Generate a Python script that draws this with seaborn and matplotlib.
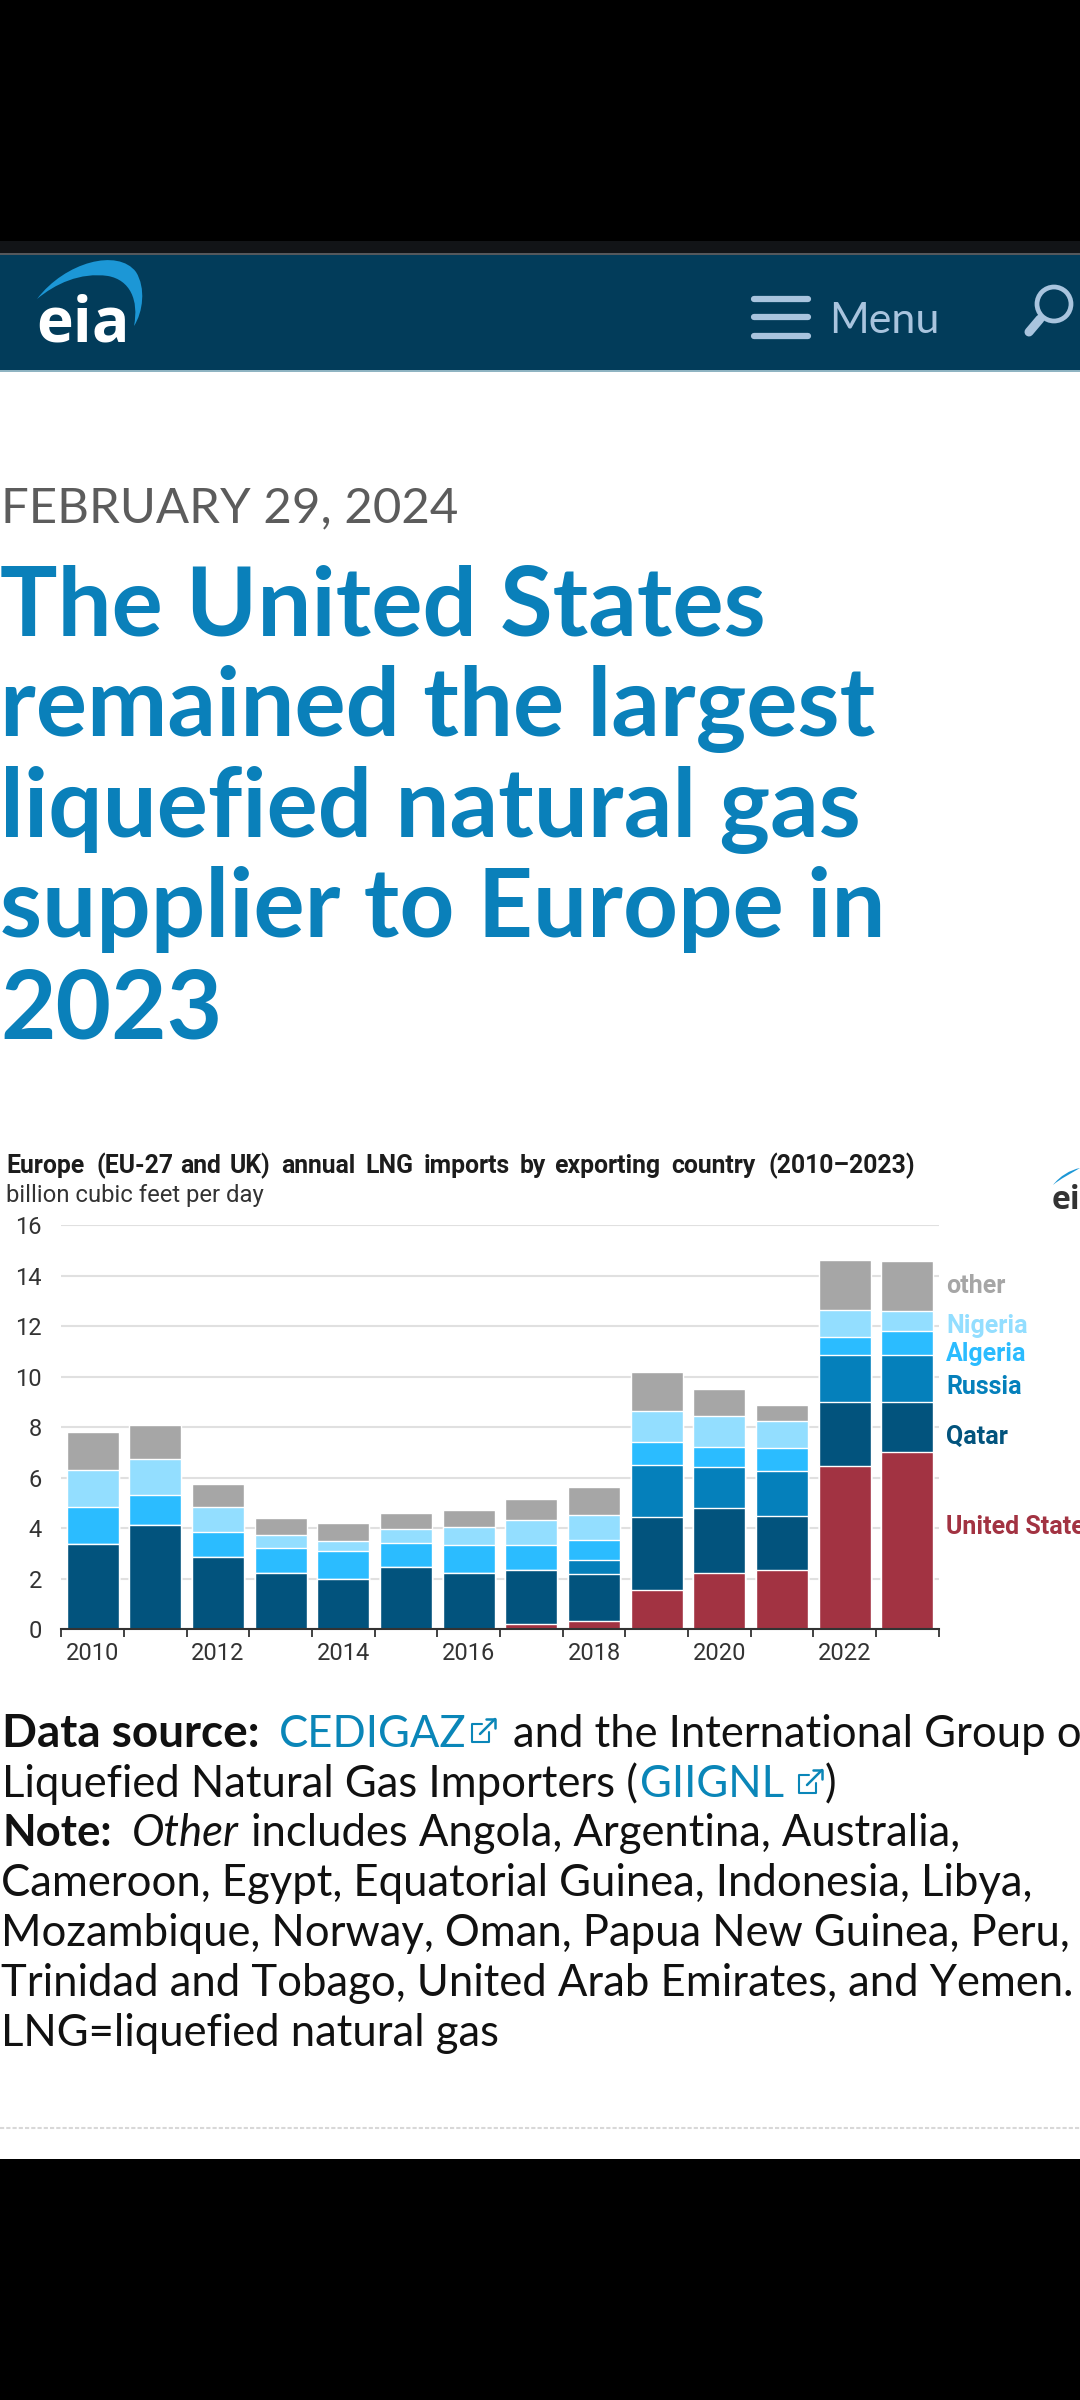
import numpy as np
import matplotlib
matplotlib.use("Agg")
import matplotlib.pyplot as plt
from matplotlib.patches import Rectangle, Circle, PathPatch
from matplotlib.path import Path
import seaborn as sns

years = ["2010", "2011", "2012", "2013", "2014", "2015", "2016", "2017", "2018", "2019", "2020", "2021", "2022", "2023"]
even_years = years[::2]
us = [0, 0, 0, 0, 0, 0, 0, 0.2, 0.31, 1.56, 2.21, 2.35, 6.48, 7.04]
qatar = [3.37, 4.12, 2.86, 2.22, 1.99, 2.48, 2.22, 2.15, 1.89, 2.89, 2.59, 2.12, 2.52, 1.98]
russia = [0, 0, 0, 0, 0, 0, 0, 0, 0.54, 2.04, 1.64, 1.81, 1.86, 1.85]
algeria = [1.49, 1.21, 0.99, 1.0, 1.13, 0.93, 1.1, 0.98, 0.81, 0.92, 0.78, 0.91, 0.72, 0.93]
nigeria = [1.44, 1.42, 0.98, 0.52, 0.37, 0.56, 0.73, 0.98, 0.97, 1.24, 1.21, 1.06, 1.07, 0.79]
other = [1.52, 1.33, 0.94, 0.67, 0.73, 0.63, 0.68, 0.85, 1.1, 1.55, 1.08, 0.63, 1.97, 1.98]

series_names = ["United States", "Qatar", "Russia", "Algeria", "Nigeria", "other"]
series_values = [us, qatar, russia, algeria, nigeria, other]
series_colors = ["#a23342", "#02537d", "#0580bb", "#2bbcff", "#93deff", "#a6a6a6"]
label_rows = [1527, 1437, 1387, 1354, 1326, 1286]

title_words = ["Europe", "(EU-27", "and", "UK)", "annual", "LNG", "imports", "by", "exporting", "country", "(2010\u20132023)"]
title_word_x = [6, 96, 180, 230, 281, 365, 424, 520, 554.5, 671.5, 768]

sns.set_theme(style="white")
plt.rcParams['font.family'] = ['Lato', 'DejaVu Sans']

fig = plt.figure(figsize=(10.8, 24), dpi=100, facecolor="white")

# whole page in pixel coordinates
page = fig.add_axes([0, 0, 1, 1])
page.set_xlim(0, 1080)
page.set_ylim(2400, 0)
page.axis("off")


def block(y0, y1, color):
    page.add_patch(Rectangle((0, y0), 1080, y1 - y0, color=color, lw=0))


def crescent(pts, color):
    codes = [Path.MOVETO] + [Path.CURVE4] * (len(pts) - 1)
    page.add_patch(PathPatch(Path(pts, codes), fc=color, lw=0))


block(0, 241, "black")
block(241, 253, "#121417")
block(253, 255, "#55585c")
block(255, 370, "#023c5a")
block(370, 372, "#8fb4c2")
block(2159, 2400, "black")

# site header
crescent([(37, 299), (65, 262), (118, 248), (136, 272), (146, 288), (143, 312), (134, 326),
          (139, 300), (130, 280), (108, 276), (80, 272), (55, 284), (37, 299)], "#1c97d6")
page.text(36, 342, "eia", color="white", fontsize=45, fontweight="bold", family="Open Sans", va="baseline")
for y in [299, 317, 336]:
    page.plot([754, 808], [y, y], color="#a9c4de", lw=4.5, solid_capstyle="round")
page.text(829, 333, "Menu", color="#a9c4de", fontsize=31, va="baseline")
page.add_patch(Circle((1054, 304), 17, fc="none", ec="#a9c4de", lw=3.4))
page.plot([1040, 1029], [319, 332], color="#a9c4de", lw=6.5, solid_capstyle="round")

# article heading
page.text(1, 522, "FEBRUARY 29, 2024", color="#5c5c5c", fontsize=35.4, va="baseline")
title_lines = ["The United States", "remained the largest", "liquefied natural gas", "supplier to Europe in", "2023"]
for i, line in enumerate(title_lines):
    page.text(0, 635 + i * 100.8, line, color="#0a80ba", fontsize=69, fontweight="bold", va="baseline")

# chart heading, tiny logo
for word, x in zip(title_words, title_word_x):
    page.text(x, 1173, word, color="#1c1c1c", fontsize=17.8, fontweight="bold", family="Roboto", va="baseline")
page.text(6, 1202, "billion cubic feet per day", color="#333333", fontsize=17.2, family="Roboto", va="baseline")
crescent([(1053, 1185), (1060, 1176), (1070, 1170), (1080, 1168), (1070, 1174), (1060, 1179), (1053, 1185)],
         "#1c97d6")
page.text(1052, 1209, "ei", color="#333333", fontsize=23, fontweight="bold", family="Open Sans", va="baseline")

# chart
ax = fig.add_axes([61.3 / 1080, 1 - 1629.3 / 2400, 877.5 / 1080, 404 / 2400])
ax.patch.set_alpha(0)
tops = np.cumsum(series_values, axis=0)
for name, top, color in reversed(list(zip(series_names, tops, series_colors))):
    sns.barplot(x=years, y=top, color=color, saturation=1, width=0.83, ax=ax, zorder=3)

ax.set_xlim(-0.5, 13.5)
ax.set_ylim(0, 16)
ax.set_yticks(range(0, 17, 2))
ax.grid(axis="y", color="#e0e0e0", lw=1.5)
ax.grid(axis="x", visible=False)
ax.set_axisbelow(True)
sns.despine(ax=ax, left=True)
ax.spines["bottom"].set_color("#333333")
ax.spines["bottom"].set_linewidth(1.5)
ax.spines["bottom"].set_zorder(5)
ax.set_xticks(np.arange(15) - 0.5, [""] * 15)
ax.set_xticks(range(0, 14, 2), even_years, minor=True)
ax.tick_params(axis="x", which="major", length=5.5, width=1.3, color="#333333", bottom=True)
ax.tick_params(axis="x", which="minor", length=0, pad=9, labelsize=17, labelcolor="#333333")
ax.tick_params(axis="y", length=0, pad=14, labelsize=17, labelcolor="#333333")
for lab in ax.get_xticklabels(minor=True) + ax.get_yticklabels():
    lab.set_family("Roboto")
ax.set_xlabel("")
ax.set_ylabel("")

for name, row, color in zip(series_names, label_rows, series_colors):
    page.text(946, row, name, color=color, fontsize=18, fontweight="bold", family="Roboto", va="center")

# notes below the chart
ink = "#111111"
link = "#0a86b8"
note_size = 31.4
note_rows = [1747, 1797, 1846, 1896, 1946, 1996, 2046]


def note(x, row, text, color=ink, size=note_size, **kw):
    page.text(x, note_rows[row], text, color=color, fontsize=size, va="baseline", **kw)


def link_icon(x, y):
    page.plot([x + 10, x, x, x + 17, x + 17], [y + 6, y + 6, y + 24, y + 24, y + 14], color=link, lw=1.5)
    page.plot([x + 8, x + 23], [y + 16, y + 1], color=link, lw=1.8)
    page.plot([x + 14, x + 23, x + 23], [y + 1, y + 1, y + 10], color=link, lw=1.8)


note(2, 0, "Data source:", size=33, fontweight="bold")
note(279, 0, "CEDIGAZ", color=link)
link_icon(472, 1718)
note(513, 0, "and the International Group of")
note(2, 1, "Liquefied Natural Gas Importers (")
note(640, 1, "GIIGNL", color=link)
link_icon(799, 1769)
note(825, 1, ")")
note(2, 2, "Note:", fontweight="bold")
note(132, 2, "Other", style="italic")
note(251, 2, "includes Angola, Argentina, Australia,")
note(1, 3, "Cameroon, Egypt, Equatorial Guinea, Indonesia, Libya,")
note(1, 4, "Mozambique, Norway, Oman, Papua New Guinea, Peru,")
note(1, 5, "Trinidad and Tobago, United Arab Emirates, and Yemen.")
note(1, 6, "LNG=liquefied natural gas")
page.plot([0, 1080], [2128, 2128], color="#d8d8d8", lw=1.5, ls=(0, (2, 1)))

fig.savefig("out.png", dpi=100)
